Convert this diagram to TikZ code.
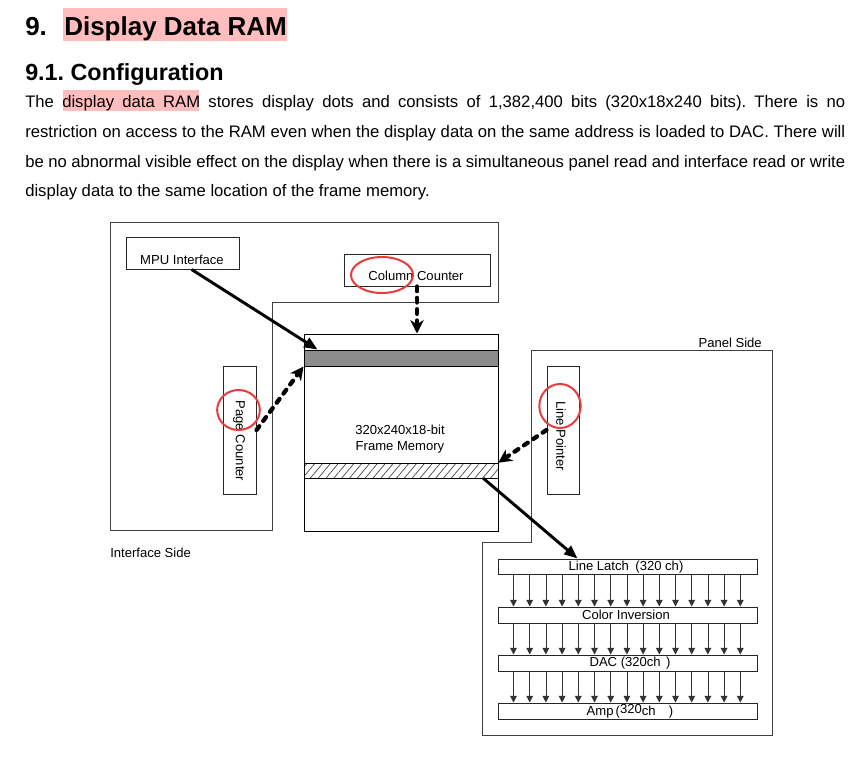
\documentclass[tikz,border=0pt]{standalone}
\usepackage{fontspec}
\setmainfont{Liberation Sans}
\usetikzlibrary{arrows.meta,calc,fit,patterns.meta}
\definecolor{hl}{RGB}{255,189,189}
\definecolor{circ}{RGB}{232,60,60}
\frenchspacing
\begin{document}
\begin{tikzpicture}[x=0.75pt,y=-0.75pt,
 box/.style={draw=black!85,line width=0.75pt,inner sep=0pt,fill=white},
 outline/.style={draw=black!75,line width=0.75pt},
 lbl/.style={font=\fontsize{9.8}{12}\selectfont,inner sep=0pt},
 para/.style={font=\fontsize{12.5}{15}\selectfont,inner sep=0pt,anchor=base west},
 thickarr/.style={line width=2.2pt,-{Triangle[length=10pt,width=8pt]}},
 dasharr/.style={line width=3.2pt,line cap=round,dash pattern=on 3.5pt off 5pt,-{Stealth[length=10pt,width=10pt,inset=3pt]}},
 parr/.style={line width=0.6pt,black!80,-{Triangle[length=5pt,width=5pt]}},
 ring/.style={draw=circ,line width=1.5pt},
]
\useasboundingbox (0,0) rectangle (865,764);
\fill[white] (0,0) rectangle (865,764);
% title
\fill[hl] (63,8) rectangle (287,41);
\node[anchor=base west,inner sep=0pt,font=\fontsize{19.5}{22}\selectfont\bfseries] (t1) at (25,35) {9.};
\node[anchor=base west,inner sep=0pt,font=\fontsize{19.5}{22}\selectfont\bfseries] (t2) at (64,35) {Display Data RAM};
\node[anchor=base west,inner sep=0pt,font=\fontsize{17.5}{20}\selectfont\bfseries] (t3) at (25,80) {9.1. Configuration};
% paragraph
\fill[hl] (63,90) rectangle (199,111);
\node[para] (p1) at (25,107) {\hbox to 615pt{The display data RAM stores display dots and consists of 1,382,400 bits (320x18x240 bits). There is no}};
\node[para] (p2) at (25,137) {\hbox to 615pt{restriction on access to the RAM even when the display data on the same address is loaded to DAC. There will}};
\node[para] (p3) at (25,167) {\hbox to 615pt{be no abnormal visible effect on the display when there is a simultaneous panel read and interface read or write}};
\node[para] (p4) at (25,196) {display data to the same location of the frame memory.};
% outlines
\draw[outline] (110,222) -- (498,222) -- (498,302) -- (272,302) -- (272,530) -- (110,530) -- cycle;
\draw[outline] (531,350) -- (772,350) -- (772,735) -- (482,735) -- (482,542) -- (531,542) -- cycle;
\node[lbl,anchor=base east] (ps) at (762,347) {Panel Side};
\node[lbl,anchor=west] (is) at (110,553) {Interface Side};
% interface boxes
\node[box,fit={(126,237) (239,269)}] (mpu) {};
\node[lbl] (mpuT) at (182,260) {MPU Interface};
\node[box,fit={(344,254) (490,286)}] (col) {};
\node[lbl] (colT) at (416,276) {Column Counter};
\node[box,fit={(223,366) (256,494)}] (page) {};
\node[lbl,rotate=-90] (pageT) at (239,441) {Page Counter};
% frame memory
\node[box,draw=black,fit={(304,334) (498,531)}] (fm) {};
\node[box,draw=black,fill=black!45,fit={(304,350) (498,366)}] (band1) {};
\node[box,draw=black,pattern={Lines[angle=50,distance=4.5pt,line width=0.5pt]},pattern color=black!75,fit={(304,463) (498,478)}] (band2) {};
\node[lbl,align=center] (fmT) at (400,439) {320x240x18-bit\\Frame Memory};
% panel boxes
\node[box,fit={(547,366) (579,494)}] (line) {};
\node[lbl,rotate=-90] (lineT) at (561,436) {Line Pointer};
\node[box,fit={(498,559) (757,574)}] (latch) {};
\node[box,fit={(498,607) (757,623)}] (inv) {};
\node[box,fit={(498,655) (757,671)}] (dac) {};
\node[box,fit={(498,703) (757,719)}] (amp) {};
\node[lbl] (latchT) at (626,567) {Line Latch\enspace(320 ch)};
\node[lbl] (invT) at (626,615) {Color Inversion};
\node[lbl] (dacT) at (630,663) {DAC (320ch\hspace{4pt})};
\node[lbl] (ampT) at (630,711) {Amp\,(\raisebox{1.5pt}{320}ch\hspace{10pt})};
\foreach \i in {0,...,14}{
  \pgfmathsetmacro\dx{16+16.2*\i}
  \draw[parr] ($(latch.south west)+(\dx,0)$) -- ($(inv.north west)+(\dx,0)$);
  \draw[parr] ($(inv.south west)+(\dx,0)$) -- ($(dac.north west)+(\dx,0)$);
  \draw[parr] ($(dac.south west)+(\dx,0)$) -- ($(amp.north west)+(\dx,0)$);
}
% arrows
\draw[thickarr] ($(mpu.south west)!0.58!(mpu.south east)$) -- ($(band1.north west)+(14,0)$);
\draw[dasharr] (col.south) -- (col.south |- fm.north);
\draw[dasharr] (page.east) -- (band1.south west);
\draw[dasharr] (line.west) -- (band2.north east);
\draw[thickarr] ($(band2.south east)+(-15,0)$) -- ($(latch.north west)+(80,0)$);
% red rings
\draw[ring] (382,275) ellipse [x radius=23.25pt,y radius=13.5pt];
\draw[ring] (238.5,410) ellipse [x radius=16pt,y radius=15pt];
\draw[ring] (560,406) ellipse [x radius=15.5pt,y radius=16.5pt];
\end{tikzpicture}
\end{document}
